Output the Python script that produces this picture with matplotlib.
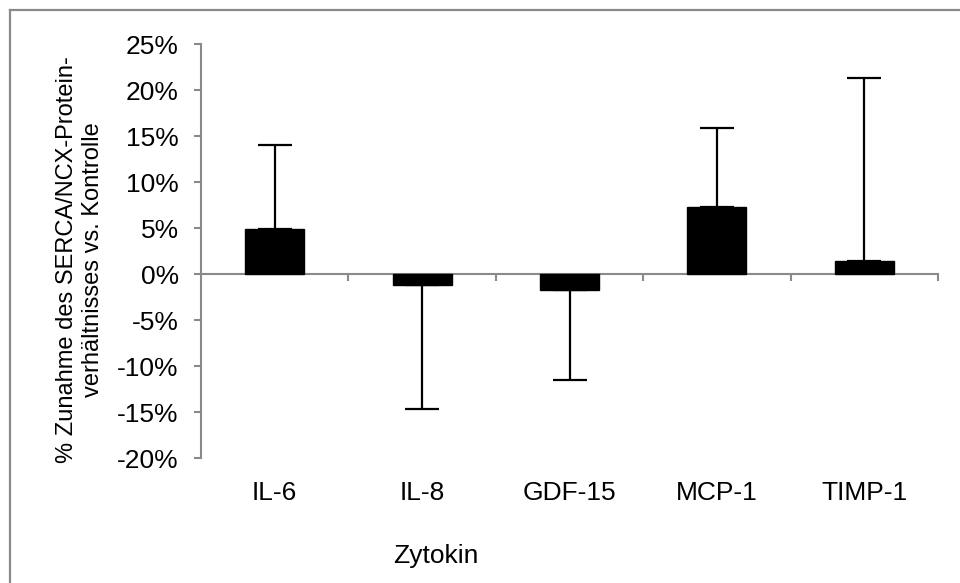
import matplotlib
matplotlib.use('Agg')
import matplotlib.pyplot as plt
from matplotlib.lines import Line2D
from matplotlib.ticker import PercentFormatter
import numpy as np

plt.rcParams['font.family'] = ['Liberation Sans', 'DejaVu Sans']
plt.rcParams['axes.unicode_minus'] = False

# data (percent)
cytokines = ['IL-6', 'IL-8', 'GDF-15', 'MCP-1', 'TIMP-1']
mean_change = [4.9, -1.15, -1.7, 7.3, 1.45]
sd_change = [9.1, 13.55, 9.8, 8.55, 19.85]
y_ticks = [-20, -15, -10, -5, 0, 5, 10, 15, 20, 25]

gray = '#8a8a8a'
mean = np.array(mean_change)
sd = np.array(sd_change)
# one-sided error bars, away from zero
yerr = np.vstack([np.where(mean < 0, sd, 0), np.where(mean >= 0, sd, 0)])

fig = plt.figure(figsize=(9.6, 5.83), dpi=100)
ax = fig.add_axes([201/960, 1-458/583, (938-201)/960, (458-44)/583])

x = np.arange(len(cytokines))
ax.bar(x, mean, width=0.4, color='black', edgecolor='black', zorder=2)
ax.errorbar(x, mean, yerr=yerr, fmt='none', ecolor='black', elinewidth=1.6,
            capsize=12, capthick=1.6, zorder=3)

ax.set_xlim(-0.5, len(cytokines) - 0.5)
ax.set_ylim(-20, 25)
ax.set_yticks(y_ticks)
ax.yaxis.set_major_formatter(PercentFormatter(decimals=0))

# x axis line at zero, ticks between categories
for s in ['top', 'right']:
    ax.spines[s].set_visible(False)
ax.spines['bottom'].set_position(('data', 0))
for s in ['left', 'bottom']:
    ax.spines[s].set_color(gray)
    ax.spines[s].set_linewidth(1.5)
    ax.spines[s].set_zorder(1)
ax.set_xticks(list(x[1:] - 0.5) + [x[-1] + 0.5])
ax.set_xticklabels([])
ax.tick_params(axis='x', direction='out', length=5, width=1.5, color=gray)
ax.tick_params(axis='y', direction='out', length=5, width=1.5, color=gray,
               labelsize=19, pad=11)

for xi, name in zip(x, cytokines):
    ax.text(xi, -0.085, name, transform=ax.get_xaxis_transform(),
            ha='center', va='center', fontsize=19)

fig.text(80/960, 1-260/583,
         '% Zunahme des SERCA/NCX-Protein-\nverhältnisses vs. Kontrolle',
         rotation=90, ha='center', va='center', multialignment='center',
         fontsize=17, linespacing=1.25)
fig.text(436/960, 1-556/583, 'Zytokin', ha='center', va='center', fontsize=19)

# outer frame (top and left edges visible)
fig.add_artist(Line2D([10/960, 10/960], [0, 1-10/583], color=gray, lw=1.6))
fig.add_artist(Line2D([10/960, 1], [1-10/583, 1-10/583], color=gray, lw=1.6))

fig.savefig('out.png', dpi=100)
